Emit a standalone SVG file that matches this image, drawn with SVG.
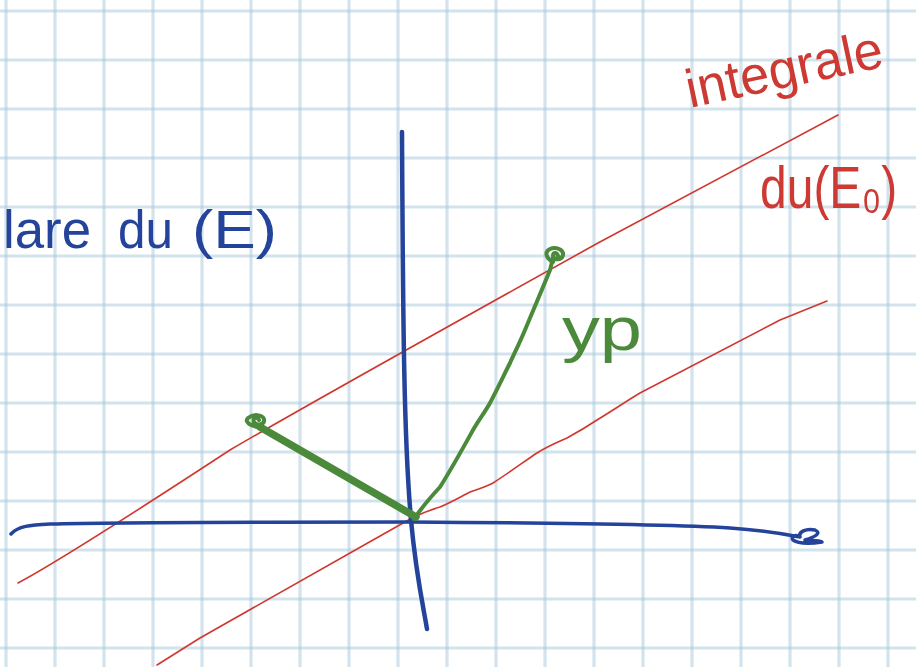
<svg xmlns="http://www.w3.org/2000/svg" width="916" height="667" viewBox="0 0 916 667">
<style>
.grid line{stroke:#a7c9dc;stroke-width:3.2;opacity:0.5}
.blue{fill:none;stroke:#24439a;stroke-linecap:round;stroke-linejoin:round}
.red{fill:none;stroke:#d0372f;stroke-width:1.6;stroke-linecap:round;stroke-linejoin:round}
.green{fill:none;stroke:#4a8a3a;stroke-linecap:round;stroke-linejoin:round}
text{font-family:"Liberation Sans","DejaVu Sans",sans-serif}
</style>
<rect width="916" height="667" fill="#ffffff"/>
<g id="grid" class="grid">
<line x1="6" y1="0" x2="6" y2="667"/><line x1="55" y1="0" x2="55" y2="667"/><line x1="104" y1="0" x2="104" y2="667"/><line x1="153" y1="0" x2="153" y2="667"/><line x1="202" y1="0" x2="202" y2="667"/><line x1="251" y1="0" x2="251" y2="667"/><line x1="300" y1="0" x2="300" y2="667"/><line x1="349" y1="0" x2="349" y2="667"/><line x1="398" y1="0" x2="398" y2="667"/><line x1="447" y1="0" x2="447" y2="667"/><line x1="496" y1="0" x2="496" y2="667"/><line x1="545" y1="0" x2="545" y2="667"/><line x1="594" y1="0" x2="594" y2="667"/><line x1="643" y1="0" x2="643" y2="667"/><line x1="692" y1="0" x2="692" y2="667"/><line x1="741" y1="0" x2="741" y2="667"/><line x1="790" y1="0" x2="790" y2="667"/><line x1="839" y1="0" x2="839" y2="667"/><line x1="888" y1="0" x2="888" y2="667"/>
<line x1="0" y1="11" x2="916" y2="11"/><line x1="0" y1="60" x2="916" y2="60"/><line x1="0" y1="109" x2="916" y2="109"/><line x1="0" y1="158" x2="916" y2="158"/><line x1="0" y1="207" x2="916" y2="207"/><line x1="0" y1="256" x2="916" y2="256"/><line x1="0" y1="305" x2="916" y2="305"/><line x1="0" y1="354" x2="916" y2="354"/><line x1="0" y1="403" x2="916" y2="403"/><line x1="0" y1="452" x2="916" y2="452"/><line x1="0" y1="501" x2="916" y2="501"/><line x1="0" y1="550" x2="916" y2="550"/><line x1="0" y1="599" x2="916" y2="599"/><line x1="0" y1="648" x2="916" y2="648"/>
</g>
<g id="connectors">
<path id="red-upper" class="red" d="M18,583 C50,566 120,522 230,450 C300,409 420,342 598,243 L838,115"/>
<path id="red-lower" class="red" d="M157,665 L200,638 L373,540 L412,518 C420,514 430,510 440,507 C452,502 462,496 470,492 C480,488 486,487 493,483 C510,472 525,461 537,453 C548,446 558,442 567,438 C578,432 588,426 597,420 C612,411 625,402 640,393 L780,320 L827,301"/>
<path id="axis-y" class="blue" stroke-width="4.5" d="M402,132 C403,330 404,440 411,520 C416,575 423,605 427,629"/>
<path id="axis-x" class="blue" stroke-width="3.5" d="M11,534 C18,526 30,525 50,524 C120,522 250,522 410,522 C560,523 680,525 730,528 C760,530 780,533 800,537 C796,534 790,536 793,540 C800,545 815,543 822,542 C818,540 810,541 805,540 C815,537 822,533 815,530 C806,528 798,532 800,537"/>
<path id="vec-1" class="green" stroke-width="7.5" d="M260,427 L416,517"/>
<path id="vec-yp" class="green" stroke-width="4" d="M414,519 C420,510 428,500 440,487 C452,468 463,448 473,430 C480,418 485,412 490,403 C497,390 503,377 510,363 C515,352 520,342 525,330 C534,308 542,290 550,270 L553,258"/>
</g>
<g id="point-a">
<path class="green" stroke-width="4" d="M262,428 C250,426 244,422 248,418 C253,414 262,414 264,419 C265,424 258,427 254,422 C252,418 257,416 259,420"/>
</g>
<g id="point-b">
<path class="green" stroke-width="4" d="M553,262 C546,258 544,252 550,249 C556,246 564,250 563,255 C562,260 554,261 553,256 C553,252 557,252 558,256"/>
</g>
<g id="labels">
<text id="label-E" fill="#24439a" font-size="54" y="248"><tspan x="3" textLength="88" lengthAdjust="spacingAndGlyphs">lare</tspan><tspan x="118" textLength="55" lengthAdjust="spacingAndGlyphs">du</tspan><tspan x="192" textLength="85" lengthAdjust="spacingAndGlyphs">(E)</tspan></text>
<text id="label-integrale" fill="#cc3a33" font-size="54" transform="translate(690,108) rotate(-12)" textLength="200" lengthAdjust="spacingAndGlyphs">integrale</text>
<text id="label-E0" fill="#cc3a33" font-size="48" transform="translate(760,208) scale(1,1.25)">du(E₀)</text>
<text id="label-yp" fill="#4a8a3a" font-size="62" x="562" y="350" textLength="80" lengthAdjust="spacingAndGlyphs">yp</text>
</g>
</svg>
